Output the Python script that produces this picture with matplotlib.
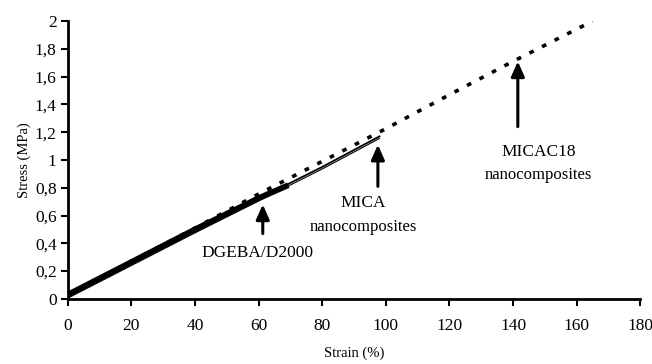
import matplotlib
matplotlib.use("Agg")
import matplotlib.pyplot as plt

# Data
dgeba_strain = [0, 20, 40, 60, 68.5]
dgeba_stress = [0.03, 0.265, 0.50, 0.725, 0.81]

mica_strain = [0, 20, 40, 60, 80, 98]
mica_stress = [0.02, 0.255, 0.49, 0.72, 0.95, 1.17]

micac18_strain = [0, 20, 40, 60, 80, 100, 120, 140, 165]
micac18_stress = [0.03, 0.27, 0.51, 0.755, 0.99, 1.225, 1.47, 1.71, 2.0]

xticks = [0, 20, 40, 60, 80, 100, 120, 140, 160, 180]
yticks = [0, 0.2, 0.4, 0.6, 0.8, 1.0, 1.2, 1.4, 1.6, 1.8, 2.0]
ytick_labels = ["0", "0,2", "0,4", "0,6", "0,8", "1", "1,2", "1,4", "1,6", "1,8", "2"]

plt.rcParams['font.family'] = ['Liberation Serif', 'DejaVu Serif']

fig = plt.figure(figsize=(6.52, 3.64), dpi=100)
ax = fig.add_axes([0.104, 0.179, 0.878, 0.763])

ax.plot(micac18_strain, micac18_stress, color='black', lw=2.6,
        linestyle=(0, (1.3, 2.6)), solid_capstyle='butt')
ax.plot(mica_strain, mica_stress, color='black', lw=1.3)
ax.plot(mica_strain, [v - 0.015 for v in mica_stress], color='black', lw=0.8)
ax.plot(dgeba_strain, dgeba_stress, color='black', lw=4.2)

ax.set_xlim(0, 180)
ax.set_ylim(0, 2)
ax.set_xticks(xticks)
ax.set_xticklabels([str(t) for t in xticks])
ax.set_yticks(yticks)
ax.set_yticklabels(ytick_labels)

for s in ['top', 'right']:
    ax.spines[s].set_visible(False)
for s in ['left', 'bottom']:
    ax.spines[s].set_linewidth(2)
ax.tick_params(axis='both', which='major', direction='out', length=5, width=1.5,
               labelsize=12.5, pad=9)
ax.tick_params(axis='y', pad=3)

ax.set_xlabel("Strain (%)", fontsize=10.5, labelpad=9)
ax.set_ylabel("Stress (MPa)", fontsize=10.5, labelpad=3)

arrow_kw = dict(arrowstyle='-|>,head_length=0.9,head_width=0.4', color='black', lw=2.2)
ax.annotate("", xy=(61.3, 0.70), xytext=(61.3, 0.45), arrowprops=arrow_kw)
ax.annotate("", xy=(97.5, 1.13), xytext=(97.5, 0.79), arrowprops=arrow_kw)
ax.annotate("", xy=(141.5, 1.73), xytext=(141.5, 1.22), arrowprops=arrow_kw)

ax.text(59.5, 0.33, "DGEBA/D2000", fontsize=12.5, ha='center', va='center')
ax.text(93, 0.69, "MICA", fontsize=12.5, ha='center', va='center')
ax.text(93, 0.52, "nanocomposites", fontsize=12, ha='center', va='center')
ax.text(148, 1.06, "MICAC18", fontsize=12.5, ha='center', va='center')
ax.text(148, 0.89, "nanocomposites", fontsize=12, ha='center', va='center')

fig.savefig("out.png", dpi=100)
